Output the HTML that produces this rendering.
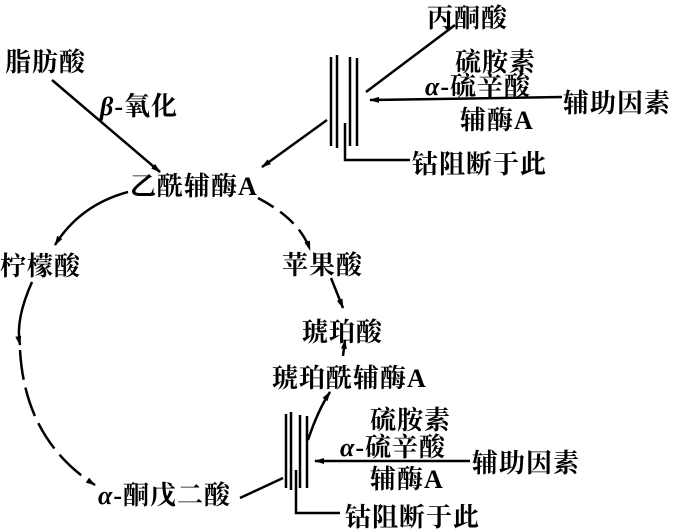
<!DOCTYPE html>
<html><head><meta charset="utf-8"><style>
html,body{margin:0;padding:0;background:#fff;}
svg{display:block}
text{font-family:"Liberation Serif","Noto Serif CJK SC","Noto Sans CJK SC",serif;font-weight:bold;fill:#000;font-size:26px;letter-spacing:1px}
</style></head><body>
<svg width="674" height="529" viewBox="0 0 674 529" xmlns="http://www.w3.org/2000/svg">
<defs><marker id="a" markerWidth="10" markerHeight="6" refX="9" refY="3" orient="auto" markerUnits="userSpaceOnUse"><path d="M0,0 L10,3 L0,6z" fill="#000"/></marker></defs>
<g stroke="#000" stroke-width="2.5" fill="none">
<line x1="331" y1="57" x2="331" y2="146"/><line x1="337" y1="55" x2="337" y2="148"/>
<line x1="350" y1="57" x2="350" y2="146"/><line x1="357" y1="58" x2="357" y2="146"/>
<polyline points="345,123 345,160 410,160"/>
<line x1="366" y1="92" x2="455" y2="25"/>
<line x1="562" y1="97" x2="370" y2="100" marker-end="url(#a)"/>
<line x1="327" y1="120" x2="262" y2="167" marker-end="url(#a)"/>
<line x1="52" y1="80" x2="160" y2="172" marker-end="url(#a)"/>
<path d="M128,192 Q80,205 55,245" marker-end="url(#a)"/>
<path d="M32,282 Q15,320 20,345" marker-end="url(#a)"/>
<path d="M20,350 Q25,440 95,485" stroke-dasharray="30 8" marker-end="url(#a)"/>
<path d="M258,198 Q300,220 310,250" stroke-dasharray="18 8" marker-end="url(#a)"/>
<line x1="331" y1="278" x2="343" y2="308" marker-end="url(#a)"/>
<line x1="343" y1="356" x2="345" y2="340" marker-end="url(#a)"/>
<path d="M308,440 Q318,410 330,392" marker-end="url(#a)"/>
<line x1="240" y1="498" x2="283" y2="478"/>
<line x1="286" y1="414" x2="286" y2="488"/><line x1="291" y1="412" x2="291" y2="490"/>
<line x1="300" y1="415" x2="300" y2="488"/><line x1="307" y1="416" x2="307" y2="488"/>
<polyline points="296,470 296,513 340,513"/>
<line x1="470" y1="461" x2="315" y2="461" marker-end="url(#a)"/>
</g>
<text x="427" y="27">丙酮酸</text>
<text x="455" y="71">硫胺素</text>
<text x="425" y="95"><tspan font-style="italic">α</tspan>-硫辛酸</text>
<text x="460" y="129">辅酶A</text>
<text x="563" y="112">辅助因素</text>
<text x="412" y="173">钴阻断于此</text>
<text x="5" y="71">脂肪酸</text>
<text x="100" y="115"><tspan font-style="italic">β</tspan>-氧化</text>
<text x="130" y="195">乙酰辅酶A</text>
<text x="0" y="275">柠檬酸</text>
<text x="282" y="274">苹果酸</text>
<text x="302" y="341">琥珀酸</text>
<text x="272" y="387">琥珀酰辅酶A</text>
<text x="98" y="504"><tspan font-style="italic">α</tspan>-酮戊二酸</text>
<text x="370" y="429">硫胺素</text>
<text x="340" y="456"><tspan font-style="italic">α</tspan>-硫辛酸</text>
<text x="370" y="488">辅酶A</text>
<text x="472" y="472">辅助因素</text>
<text x="345" y="526">钴阻断于此</text>
</svg>
</body></html>
